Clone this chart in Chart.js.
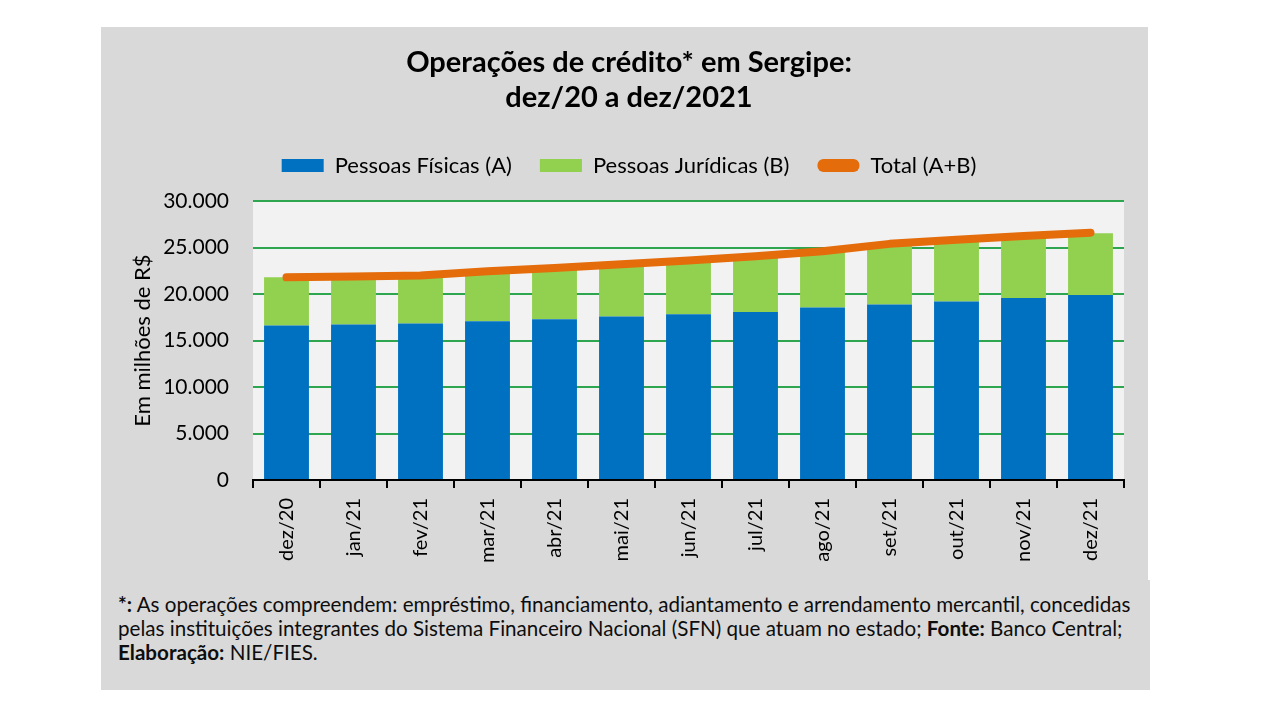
<!DOCTYPE html>
<html>
<head>
<meta charset="utf-8">
<script src="https://cdn.jsdelivr.net/npm/chart.js@4.4.1/dist/chart.umd.min.js"></script>
<style>
  html, body { margin: 0; padding: 0; background: #ffffff; width: 1280px; height: 720px; overflow: hidden; }
  #box { position: absolute; left: 101px; top: 27px; width: 1047px; height: 553px; background: #d9d9d9; }
  #note { position: absolute; left: 101px; top: 580px; width: 1049px; height: 110px; background: #d9d9d9;
          font-family: Lato, sans-serif; font-size: 20.6px; line-height: 24px; color: #0d0d0d; }
  #note div.t { position: absolute; left: 17px; top: 12px; white-space: nowrap; }
</style>
</head>
<body>
<div id="box"><canvas id="c" width="1047" height="553"></canvas></div>
<div id="note"><div class="t"><b>*:</b> As operações compreendem: empréstimo, financiamento, adiantamento e arrendamento mercantil, concedidas<br>pelas instituições integrantes do Sistema Financeiro Nacional (SFN) que atuam no estado; <b>Fonte:</b> Banco Central;<br><b>Elaboração:</b> NIE/FIES.</div></div>
<script>
const categories = ['dez/20','jan/21','fev/21','mar/21','abr/21','mai/21','jun/21','jul/21','ago/21','set/21','out/21','nov/21','dez/21'];
const pessoasFisicas = [16620,16730,16830,17080,17300,17600,17840,18060,18560,18880,19200,19570,19890];
const pessoasJuridicas = [5180,5170,5170,5370,5500,5600,5760,6000,6040,6500,6650,6680,6660];
const totalAB = [21800,21900,22000,22450,22800,23200,23600,24060,24600,25400,25850,26250,26600];
const yTicks = [0,5000,10000,15000,20000,25000,30000];

const fmt = v => String(v).replace(/\B(?=(\d{3})+(?!\d))/g, '.');

const plotBg = {
  id: 'plotBg',
  beforeDraw(chart) {
    const {ctx, chartArea: a} = chart;
    ctx.save();
    ctx.fillStyle = '#f2f2f2';
    ctx.fillRect(a.left, a.top, a.right - a.left, a.bottom - a.top);
    ctx.restore();
  }
};

// empty layout box that leaves a gap between the legend and the plot
const legendGap = {
  id: 'legendGap',
  beforeInit(chart) {
    Chart.layouts.addBox(chart, {
      position: 'top', weight: 500, fullSize: true, options: {},
      update(maxWidth) { this.width = maxWidth; this.height = 14.5; },
      isHorizontal() { return true; },
      draw() {}
    });
  }
};

new Chart(document.getElementById('c'), {
  type: 'bar',
  data: {
    labels: categories,
    datasets: [
      { label: 'Pessoas Físicas (A)', data: pessoasFisicas, backgroundColor: '#0070c0', stack: 's', order: 1,
        categoryPercentage: 1, barPercentage: 0.67 },
      { label: 'Pessoas Jurídicas (B)', data: pessoasJuridicas, backgroundColor: '#92d050', stack: 's', order: 1,
        categoryPercentage: 1, barPercentage: 0.67 },
      { label: 'Total (A+B)', type: 'line', data: totalAB, borderColor: '#e46c0a', backgroundColor: '#e46c0a',
        borderWidth: 8, borderCapStyle: 'round', borderJoinStyle: 'round', pointRadius: 0, tension: 0,
        stack: 't', order: 0 }
    ]
  },
  options: {
    responsive: false,
    animation: false,
    layout: { padding: { left: 33, right: 24, top: 0, bottom: 0 } },
    plugins: {
      title: {
        display: true,
        text: ['Operações de crédito* em Sergipe:', 'dez/20 a dez/2021'],
        color: '#000',
        font: { family: 'Lato', size: 29, weight: 'bold', lineHeight: 1.2 },
        padding: { top: 18, bottom: 12 }
      },
      legend: {
        display: true,
        labels: {
          color: '#000',
          font: { family: 'Lato', size: 22 },
          boxWidth: 42, boxHeight: 13, padding: 28,
          useBorderRadius: true,
          sort: (a, b) => a.datasetIndex - b.datasetIndex,
          generateLabels(chart) {
            const items = Chart.defaults.plugins.legend.labels.generateLabels(chart);
            items.forEach(it => {
              it.lineWidth = 0;
              it.borderRadius = it.datasetIndex === 2 ? 6 : 0;
            });
            return items;
          }
        }
      },
      tooltip: { enabled: false }
    },
    scales: {
      x: {
        stacked: true,
        afterFit(s) { s.height = 100; },
        grid: { display: true, offset: true, drawOnChartArea: false, drawTicks: true, tickLength: 8, color: '#000', lineWidth: 2 },
        border: { display: true, color: '#000', width: 2 },
        ticks: { autoSkip: false, maxRotation: 90, minRotation: 90, padding: 10, color: '#000',
                 font: { family: 'Lato', size: 20 } }
      },
      y: {
        stacked: true,
        min: 0, max: 30000,
        afterFit(s) { s.width = 119; },
        afterBuildTicks(s) { s.ticks = yTicks.map(v => ({ value: v })); },
        grid: { color: '#2ea64f', lineWidth: 2, drawTicks: false },
        border: { display: false },
        ticks: { padding: 24, color: '#000', font: { family: 'Lato', size: 21 }, callback: v => fmt(v) },
        title: { display: true, text: 'Em milhões de R$', color: '#000', font: { family: 'Lato', size: 22 },
                 padding: { top: -4, bottom: 0 } }
      }
    }
  },
  plugins: [plotBg, legendGap]
});
</script>
</body>
</html>
